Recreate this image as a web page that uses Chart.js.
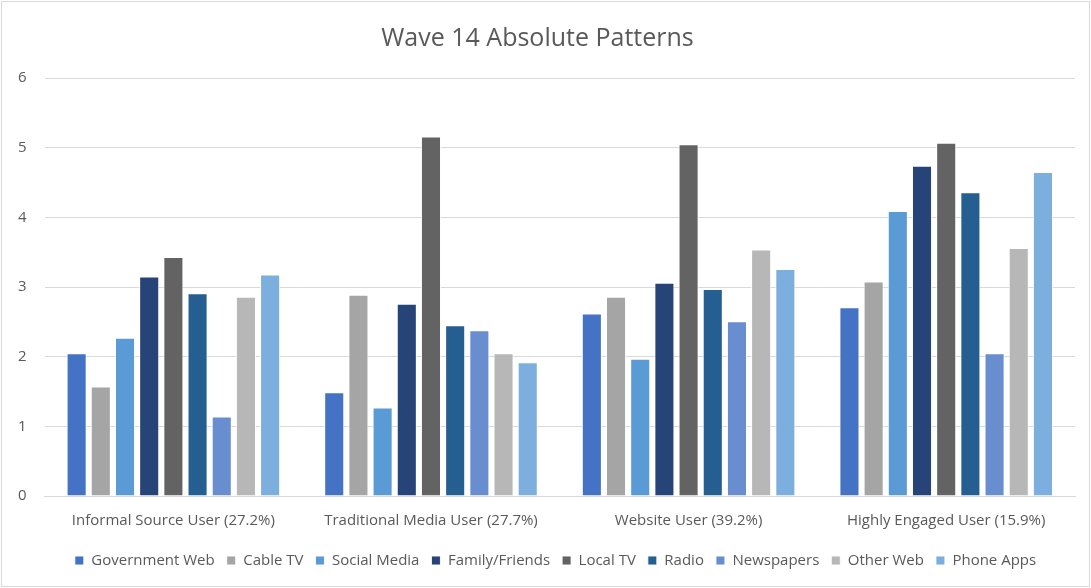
<!DOCTYPE html>
<html>
<head>
<meta charset="utf-8">
<script src="https://cdn.jsdelivr.net/npm/chart.js@4.4.1/dist/chart.umd.min.js"></script>
<style>
  html, body { margin: 0; padding: 0; background: #ffffff; }
  #wrap { position: relative; width: 1091px; height: 588px; }
</style>
</head>
<body>
<div id="wrap"><canvas id="chart" width="1091" height="588"></canvas></div>
<script>
// Respondent segments (x categories)
const categories = [
  "Informal Source User (27.2%)",
  "Traditional Media User (27.7%)",
  "Website User (39.2%)",
  "Highly Engaged User (15.9%)"
];

// Average usage score per source, one value per segment
const governmentWeb = [2.05, 1.49, 2.62, 2.71];
const cableTV       = [1.57, 2.89, 2.86, 3.08];
const socialMedia   = [2.27, 1.27, 1.97, 4.09];
const familyFriends = [3.15, 2.76, 3.06, 4.74];
const localTV       = [3.43, 5.16, 5.05, 5.07];
const radio         = [2.91, 2.45, 2.97, 4.36];
const newspapers    = [1.14, 2.38, 2.51, 2.05];
const otherWeb      = [2.86, 2.05, 3.54, 3.56];
const phoneApps     = [3.18, 1.92, 3.26, 4.65];

const yTicks = [0, 1, 2, 3, 4, 5, 6];

const series = [
  { label: "Government Web", data: governmentWeb, color: "#4472C4" },
  { label: "Cable TV",       data: cableTV,       color: "#A5A5A5" },
  { label: "Social Media",   data: socialMedia,   color: "#5B9BD5" },
  { label: "Family/Friends", data: familyFriends, color: "#264478" },
  { label: "Local TV",       data: localTV,       color: "#636363" },
  { label: "Radio",          data: radio,         color: "#255E91" },
  { label: "Newspapers",     data: newspapers,    color: "#698ED0" },
  { label: "Other Web",      data: otherWeb,      color: "#B7B7B7" },
  { label: "Phone Apps",     data: phoneApps,     color: "#7CAFDD" }
];

const textColor = "#595959";
const gridColor = "#D9D9D9";
const fontFamily = "'Open Sans', 'Noto Sans', sans-serif";

// Thin frame around the whole chart, plus a small rightward nudge of the legend row
const framePlugin = {
  id: "frame",
  afterUpdate(chart) {
    const lg = chart.legend;
    if (lg) { lg.left += 18; lg.right += 18; }
  },
  beforeDraw(chart) {
    const ctx = chart.ctx;
    ctx.save();
    ctx.fillStyle = "#ffffff";
    ctx.fillRect(0, 0, chart.width, chart.height);
    ctx.strokeStyle = "#D9D9D9";
    ctx.lineWidth = 1;
    ctx.strokeRect(1.5, 1.5, chart.width - 3, chart.height - 3);
    ctx.restore();
  }
};

new Chart(document.getElementById("chart"), {
  type: "bar",
  data: {
    labels: categories,
    datasets: series.map(s => ({
      label: s.label,
      data: s.data,
      backgroundColor: s.color,
      borderColor: "rgba(255,255,255,0.9)",
      borderWidth: 1,
      categoryPercentage: 0.845,
      barPercentage: 0.83
    }))
  },
  options: {
    responsive: false,
    animation: false,
    layout: { padding: { left: 0, right: 16, top: 14, bottom: 10 } },
    plugins: {
      title: {
        display: true,
        text: "Wave 14 Absolute Patterns",
        color: textColor,
        font: { family: fontFamily, size: 25, weight: "normal" },
        padding: { top: 10, bottom: 24 }
      },
      legend: {
        position: "bottom",
        labels: {
          color: textColor,
          font: { family: fontFamily, size: 15 },
          boxWidth: 9,
          boxHeight: 9,
          padding: 12
        }
      },
      tooltip: { enabled: false }
    },
    scales: {
      x: {
        grid: { display: false },
        border: { display: true, color: gridColor },
        afterFit(scale) { scale.height += 3; },
        ticks: {
          color: textColor,
          font: { family: fontFamily, size: 15 },
          padding: 8,
          maxRotation: 0
        }
      },
      y: {
        min: 0,
        max: 6,
        afterBuildTicks(axis) { axis.ticks = yTicks.map(v => ({ value: v })); },
        grid: { color: gridColor, lineWidth: 1, drawTicks: false },
        border: { display: false },
        ticks: {
          color: textColor,
          font: { family: fontFamily, size: 15 },
          padding: 18
        }
      }
    }
  },
  plugins: [framePlugin]
});
</script>
</body>
</html>
